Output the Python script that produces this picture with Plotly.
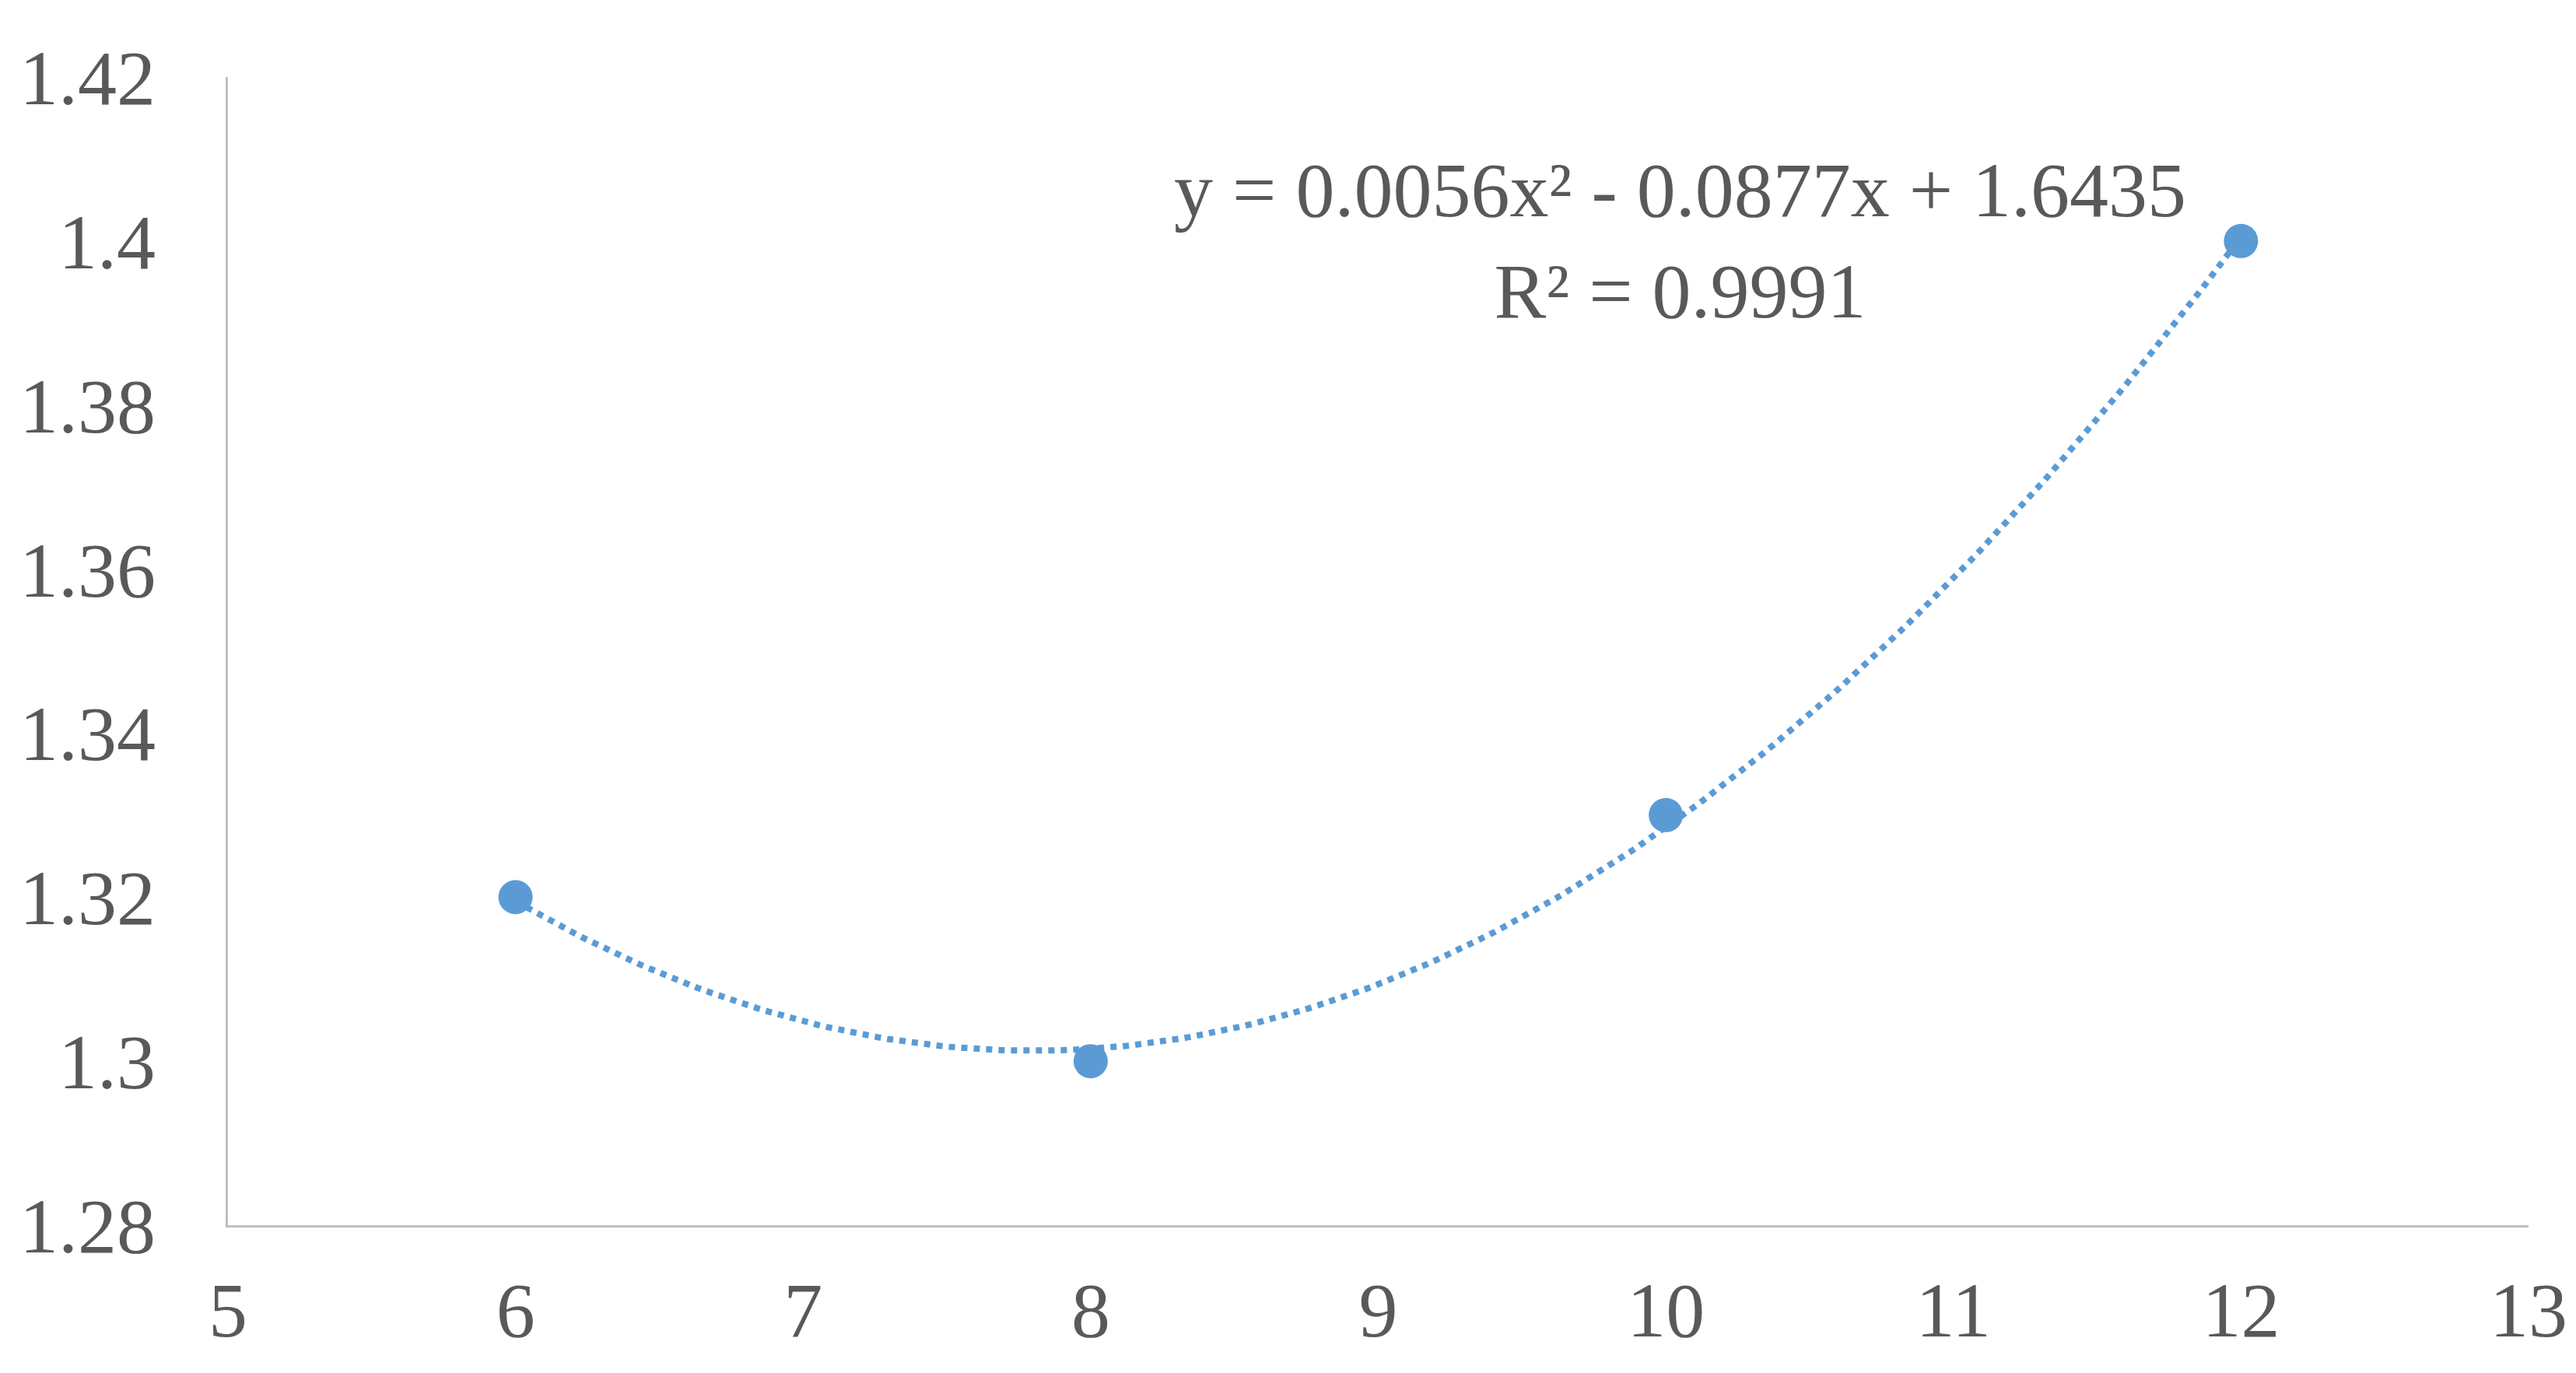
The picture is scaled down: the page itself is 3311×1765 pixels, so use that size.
import numpy as np
import plotly.graph_objects as go

x_vals = [6, 8, 10, 12]
y_vals = [1.32, 1.30, 1.33, 1.40]
x_ticks = [5, 6, 7, 8, 9, 10, 11, 12, 13]
y_ticks = [1.28, 1.30, 1.32, 1.34, 1.36, 1.38, 1.40, 1.42]
y_tick_text = ["1.28", "1.3", "1.32", "1.34", "1.36", "1.38", "1.4", "1.42"]

coef = np.polyfit(x_vals, y_vals, 2)
xs = np.linspace(6, 12, 200)
ys = np.polyval(coef, xs)

color = "#5B9BD5"
fig = go.Figure()
fig.add_trace(go.Scatter(x=xs, y=ys, mode="lines",
                         line=dict(color=color, width=8, dash="dot"), hoverinfo="skip"))
fig.add_trace(go.Scatter(x=x_vals, y=y_vals, mode="markers",
                         marker=dict(color=color, size=44)))
fig.add_annotation(x=10.05, y=1.4, xref="x", yref="y",
                   text="y = 0.0056x² - 0.0877x + 1.6435<br>R² = 0.9991",
                   showarrow=False, align="center",
                   font=dict(family="Liberation Serif", size=100, color="#595959"))
axis_font = dict(family="Liberation Serif", size=100, color="#595959")
fig.update_layout(
    width=3311, height=1765, showlegend=False,
    plot_bgcolor="white", paper_bgcolor="white",
    margin=dict(l=285, r=69, t=91, b=198),
    xaxis=dict(range=[5, 13], tickvals=x_ticks, showgrid=False, zeroline=False,
               showline=True, linecolor="#BFBFBF", linewidth=3, tickfont=axis_font, ticks="",
               ticklabelstandoff=20),
    yaxis=dict(range=[1.28, 1.42], tickvals=y_ticks, ticktext=y_tick_text, showgrid=False,
               zeroline=False, showline=True, linecolor="#BFBFBF", linewidth=3,
               tickfont=axis_font, ticks="", ticklabelstandoff=70),
)
fig.write_html("out.html")
